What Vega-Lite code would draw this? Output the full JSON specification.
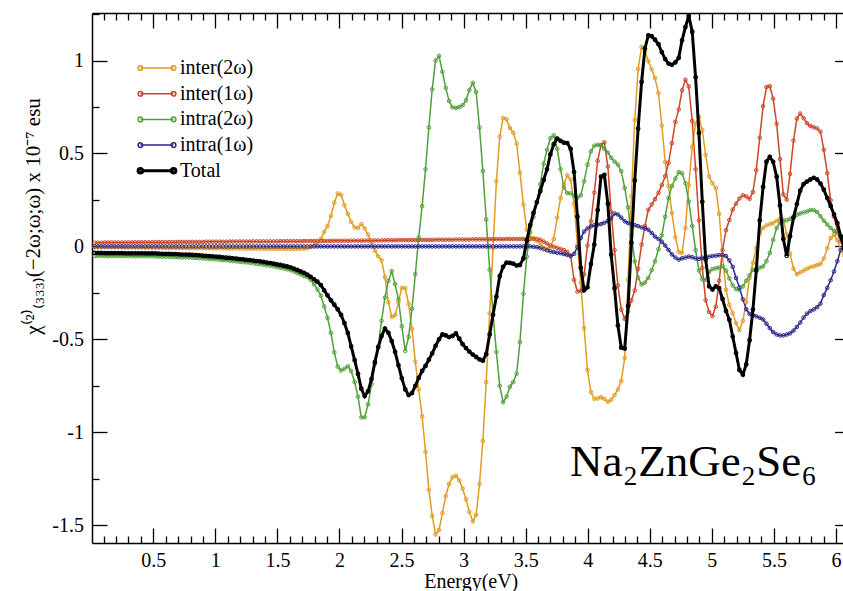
{
"$schema":"https://vega.github.io/schema/vega-lite/v6.json",
"width":757.5,"height":530,
"autosize":{"type":"none"},
"padding":{"left":92,"top":13,"right":-6.5,"bottom":48},
"background":"white",
"config":{"view":{"stroke":null},"axis":{"grid":false,"domainColor":"#000","domainWidth":1.5,"tickColor":"#000","tickWidth":1.3,"labelFont":"Liberation Serif","labelFontSize":20,"labelColor":"#000","titleFont":"Liberation Serif","titleFontSize":20,"titleFontWeight":"normal","titleColor":"#000"},"legend":{"labelFont":"Liberation Serif","labelFontSize":20,"labelColor":"#000"}},
"data":{"values":[
{"E":0.027,"o":-0.004,"r":0.020,"g":-0.051,"b":0,"t":-0.035},
{"E":0.054,"o":-0.004,"r":0.020,"g":-0.051,"b":0,"t":-0.035},
{"E":0.082,"o":-0.005,"r":0.020,"g":-0.050,"b":0,"t":-0.035},
{"E":0.109,"o":-0.005,"r":0.021,"g":-0.052,"b":0,"t":-0.036},
{"E":0.136,"o":-0.005,"r":0.021,"g":-0.052,"b":0,"t":-0.036},
{"E":0.163,"o":-0.005,"r":0.021,"g":-0.052,"b":0,"t":-0.036},
{"E":0.190,"o":-0.005,"r":0.021,"g":-0.052,"b":0,"t":-0.036},
{"E":0.218,"o":-0.005,"r":0.021,"g":-0.052,"b":0,"t":-0.036},
{"E":0.245,"o":-0.005,"r":0.021,"g":-0.052,"b":0,"t":-0.036},
{"E":0.272,"o":-0.006,"r":0.021,"g":-0.052,"b":0,"t":-0.037},
{"E":0.299,"o":-0.006,"r":0.021,"g":-0.052,"b":0,"t":-0.037},
{"E":0.326,"o":-0.006,"r":0.022,"g":-0.053,"b":0,"t":-0.037},
{"E":0.354,"o":-0.006,"r":0.022,"g":-0.053,"b":0,"t":-0.037},
{"E":0.381,"o":-0.006,"r":0.022,"g":-0.053,"b":0,"t":-0.037},
{"E":0.408,"o":-0.006,"r":0.022,"g":-0.053,"b":0,"t":-0.037},
{"E":0.435,"o":-0.007,"r":0.022,"g":-0.053,"b":0,"t":-0.038},
{"E":0.462,"o":-0.007,"r":0.022,"g":-0.053,"b":0,"t":-0.038},
{"E":0.490,"o":-0.007,"r":0.022,"g":-0.053,"b":0,"t":-0.038},
{"E":0.517,"o":-0.007,"r":0.023,"g":-0.054,"b":0,"t":-0.038},
{"E":0.544,"o":-0.007,"r":0.023,"g":-0.055,"b":0,"t":-0.039},
{"E":0.571,"o":-0.007,"r":0.023,"g":-0.056,"b":0,"t":-0.040},
{"E":0.598,"o":-0.008,"r":0.023,"g":-0.055,"b":0,"t":-0.040},
{"E":0.626,"o":-0.008,"r":0.023,"g":-0.056,"b":0,"t":-0.041},
{"E":0.653,"o":-0.008,"r":0.023,"g":-0.057,"b":0,"t":-0.042},
{"E":0.680,"o":-0.008,"r":0.023,"g":-0.057,"b":0,"t":-0.042},
{"E":0.707,"o":-0.008,"r":0.024,"g":-0.059,"b":0,"t":-0.043},
{"E":0.734,"o":-0.008,"r":0.024,"g":-0.060,"b":0,"t":-0.044},
{"E":0.762,"o":-0.009,"r":0.024,"g":-0.059,"b":0,"t":-0.044},
{"E":0.789,"o":-0.009,"r":0.024,"g":-0.060,"b":0,"t":-0.045},
{"E":0.816,"o":-0.009,"r":0.024,"g":-0.061,"b":0,"t":-0.046},
{"E":0.843,"o":-0.009,"r":0.024,"g":-0.062,"b":0,"t":-0.047},
{"E":0.870,"o":-0.009,"r":0.024,"g":-0.063,"b":0,"t":-0.048},
{"E":0.898,"o":-0.009,"r":0.024,"g":-0.065,"b":0,"t":-0.050},
{"E":0.925,"o":-0.010,"r":0.025,"g":-0.066,"b":0,"t":-0.051},
{"E":0.952,"o":-0.010,"r":0.025,"g":-0.068,"b":0,"t":-0.053},
{"E":0.979,"o":-0.010,"r":0.025,"g":-0.069,"b":0,"t":-0.054},
{"E":1.006,"o":-0.010,"r":0.025,"g":-0.070,"b":0,"t":-0.055},
{"E":1.034,"o":-0.010,"r":0.025,"g":-0.072,"b":0,"t":-0.057},
{"E":1.061,"o":-0.010,"r":0.025,"g":-0.074,"b":0,"t":-0.059},
{"E":1.088,"o":-0.011,"r":0.025,"g":-0.075,"b":0,"t":-0.061},
{"E":1.115,"o":-0.011,"r":0.026,"g":-0.077,"b":0,"t":-0.062},
{"E":1.142,"o":-0.011,"r":0.026,"g":-0.079,"b":0,"t":-0.064},
{"E":1.170,"o":-0.011,"r":0.026,"g":-0.081,"b":0,"t":-0.066},
{"E":1.197,"o":-0.011,"r":0.026,"g":-0.083,"b":0,"t":-0.068},
{"E":1.224,"o":-0.011,"r":0.026,"g":-0.085,"b":0,"t":-0.070},
{"E":1.251,"o":-0.012,"r":0.026,"g":-0.086,"b":0,"t":-0.072},
{"E":1.278,"o":-0.012,"r":0.026,"g":-0.088,"b":0,"t":-0.074},
{"E":1.306,"o":-0.012,"r":0.027,"g":-0.091,"b":0,"t":-0.076},
{"E":1.333,"o":-0.012,"r":0.027,"g":-0.094,"b":0,"t":-0.079},
{"E":1.360,"o":-0.012,"r":0.027,"g":-0.096,"b":0,"t":-0.081},
{"E":1.387,"o":-0.012,"r":0.027,"g":-0.099,"b":0,"t":-0.084},
{"E":1.414,"o":-0.012,"r":0.027,"g":-0.102,"b":0,"t":-0.087},
{"E":1.442,"o":-0.013,"r":0.027,"g":-0.104,"b":0,"t":-0.090},
{"E":1.469,"o":-0.013,"r":0.027,"g":-0.107,"b":0,"t":-0.093},
{"E":1.496,"o":-0.013,"r":0.027,"g":-0.111,"b":0,"t":-0.097},
{"E":1.523,"o":-0.013,"r":0.028,"g":-0.115,"b":0,"t":-0.100},
{"E":1.550,"o":-0.013,"r":0.028,"g":-0.119,"b":0,"t":-0.104},
{"E":1.578,"o":-0.013,"r":0.028,"g":-0.123,"b":0,"t":-0.108},
{"E":1.605,"o":-0.013,"r":0.028,"g":-0.128,"b":0,"t":-0.113},
{"E":1.632,"o":-0.013,"r":0.028,"g":-0.135,"b":0,"t":-0.120},
{"E":1.659,"o":-0.013,"r":0.028,"g":-0.142,"b":0,"t":-0.127},
{"E":1.686,"o":-0.012,"r":0.028,"g":-0.151,"b":0,"t":-0.135},
{"E":1.714,"o":-0.012,"r":0.029,"g":-0.160,"b":0,"t":-0.143},
{"E":1.741,"o":-0.010,"r":0.029,"g":-0.165,"b":0,"t":-0.152},
{"E":1.768,"o":-0.004,"r":0.029,"g":-0.180,"b":0,"t":-0.164},
{"E":1.795,"o":0.005,"r":0.029,"g":-0.203,"b":0,"t":-0.177},
{"E":1.822,"o":0.020,"r":0.029,"g":-0.232,"b":0,"t":-0.190},
{"E":1.850,"o":0.040,"r":0.029,"g":-0.265,"b":0,"t":-0.208},
{"E":1.877,"o":0.078,"r":0.029,"g":-0.323,"b":0,"t":-0.237},
{"E":1.904,"o":0.110,"r":0.029,"g":-0.385,"b":0,"t":-0.264},
{"E":1.931,"o":0.165,"r":0.030,"g":-0.465,"b":0,"t":-0.290},
{"E":1.958,"o":0.235,"r":0.030,"g":-0.570,"b":0,"t":-0.314},
{"E":1.986,"o":0.285,"r":0.030,"g":-0.647,"b":0,"t":-0.339},
{"E":2.013,"o":0.278,"r":0.030,"g":-0.668,"b":0,"t":-0.369},
{"E":2.040,"o":0.222,"r":0.030,"g":-0.658,"b":0,"t":-0.413},
{"E":2.067,"o":0.175,"r":0.030,"g":-0.645,"b":0,"t":-0.466},
{"E":2.094,"o":0.132,"r":0.031,"g":-0.670,"b":0,"t":-0.538},
{"E":2.122,"o":0.102,"r":0.031,"g":-0.730,"b":0,"t":-0.612},
{"E":2.149,"o":0.099,"r":0.031,"g":-0.808,"b":0,"t":-0.686},
{"E":2.176,"o":0.120,"r":0.031,"g":-0.920,"b":0,"t":-0.766},
{"E":2.203,"o":0.097,"r":0.031,"g":-0.920,"b":0,"t":-0.805},
{"E":2.230,"o":0.064,"r":0.032,"g":-0.850,"b":0,"t":-0.780},
{"E":2.258,"o":0.020,"r":0.032,"g":-0.742,"b":0,"t":-0.714},
{"E":2.285,"o":-0.023,"r":0.032,"g":-0.632,"b":0,"t":-0.623},
{"E":2.312,"o":-0.053,"r":0.032,"g":-0.537,"b":0,"t":-0.543},
{"E":2.339,"o":-0.075,"r":0.032,"g":-0.400,"b":0,"t":-0.482},
{"E":2.366,"o":-0.165,"r":0.033,"g":-0.275,"b":0,"t":-0.442},
{"E":2.394,"o":-0.300,"r":0.033,"g":-0.185,"b":0,"t":-0.465},
{"E":2.421,"o":-0.380,"r":0.033,"g":-0.134,"b":0,"t":-0.510},
{"E":2.448,"o":-0.370,"r":0.033,"g":-0.203,"b":0,"t":-0.568},
{"E":2.475,"o":-0.300,"r":0.034,"g":-0.285,"b":0,"t":-0.640},
{"E":2.502,"o":-0.222,"r":0.034,"g":-0.430,"b":0,"t":-0.710},
{"E":2.530,"o":-0.225,"r":0.034,"g":-0.563,"b":0,"t":-0.770},
{"E":2.557,"o":-0.310,"r":0.034,"g":-0.487,"b":0,"t":-0.800},
{"E":2.584,"o":-0.445,"r":0.034,"g":-0.335,"b":0,"t":-0.790},
{"E":2.611,"o":-0.620,"r":0.034,"g":-0.150,"b":0,"t":-0.750},
{"E":2.638,"o":-0.770,"r":0.035,"g":0.048,"b":0,"t":-0.708},
{"E":2.666,"o":-0.915,"r":0.035,"g":0.217,"b":0,"t":-0.670},
{"E":2.693,"o":-1.105,"r":0.035,"g":0.415,"b":0,"t":-0.643},
{"E":2.720,"o":-1.309,"r":0.035,"g":0.640,"b":0,"t":-0.610},
{"E":2.747,"o":-1.450,"r":0.035,"g":0.845,"b":0,"t":-0.576},
{"E":2.774,"o":-1.550,"r":0.036,"g":1.000,"b":0,"t":-0.535},
{"E":2.802,"o":-1.527,"r":0.036,"g":1.025,"b":0,"t":-0.500},
{"E":2.829,"o":-1.435,"r":0.036,"g":0.940,"b":0,"t":-0.474},
{"E":2.856,"o":-1.343,"r":0.036,"g":0.853,"b":0,"t":-0.479},
{"E":2.883,"o":-1.279,"r":0.036,"g":0.782,"b":0,"t":-0.488},
{"E":2.910,"o":-1.242,"r":0.036,"g":0.749,"b":0,"t":-0.482},
{"E":2.938,"o":-1.234,"r":0.037,"g":0.745,"b":0,"t":-0.468},
{"E":2.965,"o":-1.259,"r":0.037,"g":0.750,"b":0,"t":-0.497},
{"E":2.992,"o":-1.303,"r":0.037,"g":0.760,"b":0,"t":-0.526},
{"E":3.019,"o":-1.361,"r":0.037,"g":0.786,"b":0,"t":-0.547},
{"E":3.046,"o":-1.428,"r":0.037,"g":0.842,"b":0,"t":-0.566},
{"E":3.074,"o":-1.480,"r":0.038,"g":0.880,"b":0,"t":-0.582},
{"E":3.101,"o":-1.445,"r":0.038,"g":0.830,"b":0,"t":-0.595},
{"E":3.128,"o":-1.280,"r":0.038,"g":0.640,"b":0,"t":-0.608},
{"E":3.155,"o":-1.046,"r":0.038,"g":0.406,"b":0,"t":-0.615},
{"E":3.182,"o":-0.730,"r":0.038,"g":0.145,"b":0,"t":-0.580},
{"E":3.210,"o":-0.360,"r":0.039,"g":-0.125,"b":0,"t":-0.474},
{"E":3.237,"o":-0.010,"r":0.039,"g":-0.365,"b":0,"t":-0.368},
{"E":3.264,"o":0.350,"r":0.039,"g":-0.568,"b":0,"t":-0.270},
{"E":3.291,"o":0.590,"r":0.039,"g":-0.750,"b":0,"t":-0.160},
{"E":3.318,"o":0.690,"r":0.039,"g":-0.838,"b":0,"t":-0.110},
{"E":3.346,"o":0.685,"r":0.040,"g":-0.808,"b":0,"t":-0.087},
{"E":3.373,"o":0.637,"r":0.040,"g":-0.755,"b":0,"t":-0.089},
{"E":3.400,"o":0.612,"r":0.040,"g":-0.730,"b":0,"t":-0.093},
{"E":3.427,"o":0.553,"r":0.040,"g":-0.685,"b":0,"t":-0.103},
{"E":3.454,"o":0.396,"r":0.040,"g":-0.515,"b":0,"t":-0.100},
{"E":3.482,"o":0.225,"r":0.040,"g":-0.255,"b":0,"t":-0.065},
{"E":3.509,"o":0.090,"r":0.040,"g":-0.055,"b":0,"t":0.032},
{"E":3.536,"o":0.050,"r":0.040,"g":0.075,"b":0,"t":0.115},
{"E":3.563,"o":0.045,"r":0.040,"g":0.158,"b":-0.002,"t":0.180},
{"E":3.590,"o":0.030,"r":0.040,"g":0.240,"b":-0.004,"t":0.237},
{"E":3.618,"o":0.016,"r":0.036,"g":0.335,"b":-0.009,"t":0.298},
{"E":3.645,"o":-0.008,"r":0.026,"g":0.445,"b":-0.015,"t":0.358},
{"E":3.672,"o":-0.015,"r":0.015,"g":0.520,"b":-0.021,"t":0.415},
{"E":3.699,"o":-0.005,"r":0.005,"g":0.582,"b":-0.027,"t":0.495},
{"E":3.726,"o":0.040,"r":-0.001,"g":0.598,"b":-0.030,"t":0.550},
{"E":3.754,"o":0.155,"r":-0.008,"g":0.525,"b":-0.034,"t":0.580},
{"E":3.781,"o":0.260,"r":-0.014,"g":0.415,"b":-0.037,"t":0.568},
{"E":3.808,"o":0.335,"r":-0.020,"g":0.318,"b":-0.041,"t":0.558},
{"E":3.835,"o":0.383,"r":-0.030,"g":0.287,"b":-0.046,"t":0.556},
{"E":3.862,"o":0.360,"r":-0.050,"g":0.285,"b":-0.052,"t":0.525},
{"E":3.890,"o":0.230,"r":-0.180,"g":0.273,"b":-0.040,"t":0.400},
{"E":3.917,"o":0.010,"r":-0.243,"g":0.262,"b":-0.004,"t":0.160},
{"E":3.944,"o":-0.195,"r":-0.240,"g":0.275,"b":0.045,"t":-0.115},
{"E":3.971,"o":-0.440,"r":-0.150,"g":0.350,"b":0.080,"t":-0.236},
{"E":3.998,"o":-0.665,"r":0.005,"g":0.440,"b":0.097,"t":-0.220},
{"E":4.026,"o":-0.785,"r":0.135,"g":0.512,"b":0.108,"t":-0.095},
{"E":4.053,"o":-0.820,"r":0.290,"g":0.542,"b":0.114,"t":0.010},
{"E":4.080,"o":-0.818,"r":0.460,"g":0.547,"b":0.117,"t":0.195},
{"E":4.107,"o":-0.812,"r":0.545,"g":0.545,"b":0.120,"t":0.375},
{"E":4.134,"o":-0.820,"r":0.560,"g":0.525,"b":0.127,"t":0.385},
{"E":4.162,"o":-0.836,"r":0.430,"g":0.505,"b":0.137,"t":0.230},
{"E":4.189,"o":-0.825,"r":0.185,"g":0.477,"b":0.150,"t":-0.045},
{"E":4.216,"o":-0.800,"r":-0.020,"g":0.456,"b":0.177,"t":-0.225},
{"E":4.243,"o":-0.770,"r":-0.210,"g":0.440,"b":0.172,"t":-0.425},
{"E":4.270,"o":-0.724,"r":-0.340,"g":0.405,"b":0.155,"t":-0.545},
{"E":4.298,"o":-0.600,"r":-0.390,"g":0.315,"b":0.135,"t":-0.550},
{"E":4.325,"o":-0.180,"r":-0.350,"g":0.210,"b":0.126,"t":-0.320},
{"E":4.352,"o":0.270,"r":-0.290,"g":0.060,"b":0.120,"t":0.020},
{"E":4.379,"o":0.680,"r":-0.237,"g":-0.080,"b":0.114,"t":0.355},
{"E":4.406,"o":0.955,"r":-0.120,"g":-0.168,"b":0.109,"t":0.634},
{"E":4.434,"o":1.073,"r":0.010,"g":-0.205,"b":0.102,"t":0.885},
{"E":4.461,"o":1.050,"r":0.110,"g":-0.195,"b":0.097,"t":1.065},
{"E":4.488,"o":0.998,"r":0.197,"g":-0.170,"b":0.090,"t":1.136},
{"E":4.515,"o":0.953,"r":0.226,"g":-0.128,"b":0.072,"t":1.131},
{"E":4.542,"o":0.905,"r":0.254,"g":-0.080,"b":0.053,"t":1.112},
{"E":4.570,"o":0.825,"r":0.288,"g":-0.015,"b":0.040,"t":1.088},
{"E":4.597,"o":0.650,"r":0.330,"g":0.060,"b":0.025,"t":1.045},
{"E":4.624,"o":0.455,"r":0.378,"g":0.160,"b":0.005,"t":1.008},
{"E":4.651,"o":0.325,"r":0.450,"g":0.260,"b":-0.019,"t":0.984},
{"E":4.678,"o":0.180,"r":0.555,"g":0.325,"b":-0.043,"t":0.977},
{"E":4.706,"o":0.050,"r":0.670,"g":0.365,"b":-0.060,"t":0.990},
{"E":4.733,"o":-0.030,"r":0.737,"g":0.400,"b":-0.071,"t":1.015},
{"E":4.760,"o":-0.035,"r":0.840,"g":0.393,"b":-0.064,"t":1.109},
{"E":4.787,"o":0.100,"r":0.897,"g":0.340,"b":-0.060,"t":1.180},
{"E":4.814,"o":0.330,"r":0.860,"g":0.242,"b":-0.055,"t":1.240},
{"E":4.842,"o":0.536,"r":0.675,"g":0.110,"b":-0.058,"t":1.155},
{"E":4.869,"o":0.660,"r":0.415,"g":-0.020,"b":-0.065,"t":0.910},
{"E":4.896,"o":0.697,"r":0.140,"g":-0.130,"b":-0.067,"t":0.610},
{"E":4.923,"o":0.626,"r":-0.115,"g":-0.178,"b":-0.061,"t":0.240},
{"E":4.950,"o":0.492,"r":-0.290,"g":-0.180,"b":-0.058,"t":-0.070},
{"E":4.978,"o":0.376,"r":-0.353,"g":-0.137,"b":-0.055,"t":-0.215},
{"E":5.005,"o":0.340,"r":-0.375,"g":-0.122,"b":-0.052,"t":-0.232},
{"E":5.032,"o":0.314,"r":-0.324,"g":-0.118,"b":-0.050,"t":-0.215},
{"E":5.059,"o":0.175,"r":-0.185,"g":-0.114,"b":-0.047,"t":-0.225},
{"E":5.086,"o":-0.050,"r":-0.020,"g":-0.107,"b":-0.046,"t":-0.283},
{"E":5.114,"o":-0.233,"r":0.087,"g":-0.130,"b":-0.052,"t":-0.347},
{"E":5.141,"o":-0.315,"r":0.142,"g":-0.172,"b":-0.075,"t":-0.395},
{"E":5.168,"o":-0.360,"r":0.198,"g":-0.210,"b":-0.110,"t":-0.485},
{"E":5.195,"o":-0.413,"r":0.230,"g":-0.230,"b":-0.170,"t":-0.574},
{"E":5.222,"o":-0.450,"r":0.258,"g":-0.235,"b":-0.220,"t":-0.665},
{"E":5.250,"o":-0.400,"r":0.275,"g":-0.215,"b":-0.285,"t":-0.690},
{"E":5.277,"o":-0.300,"r":0.269,"g":-0.185,"b":-0.338,"t":-0.635},
{"E":5.304,"o":-0.170,"r":0.256,"g":-0.155,"b":-0.364,"t":-0.505},
{"E":5.331,"o":-0.088,"r":0.292,"g":-0.126,"b":-0.370,"t":-0.340},
{"E":5.358,"o":-0.010,"r":0.410,"g":-0.119,"b":-0.376,"t":-0.130},
{"E":5.386,"o":0.070,"r":0.585,"g":-0.114,"b":-0.384,"t":0.140},
{"E":5.413,"o":0.100,"r":0.755,"g":-0.108,"b":-0.393,"t":0.320},
{"E":5.440,"o":0.113,"r":0.858,"g":-0.080,"b":-0.416,"t":0.456},
{"E":5.467,"o":0.120,"r":0.862,"g":-0.035,"b":-0.440,"t":0.482},
{"E":5.494,"o":0.126,"r":0.795,"g":0.035,"b":-0.461,"t":0.455},
{"E":5.522,"o":0.138,"r":0.660,"g":0.100,"b":-0.474,"t":0.375},
{"E":5.549,"o":0.147,"r":0.470,"g":0.128,"b":-0.479,"t":0.220},
{"E":5.576,"o":0.145,"r":0.280,"g":0.136,"b":-0.479,"t":0.040},
{"E":5.603,"o":0.065,"r":0.252,"g":0.140,"b":-0.474,"t":-0.050},
{"E":5.630,"o":-0.040,"r":0.390,"g":0.148,"b":-0.468,"t":0.055},
{"E":5.658,"o":-0.120,"r":0.570,"g":0.160,"b":-0.453,"t":0.155},
{"E":5.685,"o":-0.150,"r":0.688,"g":0.170,"b":-0.433,"t":0.228},
{"E":5.712,"o":-0.140,"r":0.715,"g":0.177,"b":-0.410,"t":0.300},
{"E":5.739,"o":-0.130,"r":0.690,"g":0.183,"b":-0.383,"t":0.335},
{"E":5.766,"o":-0.120,"r":0.663,"g":0.188,"b":-0.362,"t":0.349},
{"E":5.794,"o":-0.112,"r":0.648,"g":0.196,"b":-0.348,"t":0.360},
{"E":5.821,"o":-0.107,"r":0.641,"g":0.195,"b":-0.339,"t":0.369},
{"E":5.848,"o":-0.100,"r":0.635,"g":0.185,"b":-0.327,"t":0.360},
{"E":5.875,"o":-0.095,"r":0.618,"g":0.162,"b":-0.308,"t":0.338},
{"E":5.902,"o":-0.065,"r":0.520,"g":0.138,"b":-0.262,"t":0.305},
{"E":5.930,"o":-0.010,"r":0.394,"g":0.118,"b":-0.223,"t":0.260},
{"E":5.957,"o":0.045,"r":0.248,"g":0.099,"b":-0.182,"t":0.218},
{"E":5.984,"o":0.063,"r":0.160,"g":0.083,"b":-0.135,"t":0.172},
{"E":6.011,"o":0.035,"r":0.085,"g":0.070,"b":-0.080,"t":0.125},
{"E":6.038,"o":-0.015,"r":0.028,"g":0.056,"b":-0.020,"t":0.055},
{"E":6.066,"o":-0.050,"r":-0.005,"g":0.045,"b":0.010,"t":-0.010}
]},
"layer":[
{
"transform":[{"fold":["o","r","g","b","t"],"as":["series","chi"]},{"filter":"datum.series !== 't'"}],
"mark":{"type":"line","strokeWidth":1.5,"clip":true},
"encoding":{
"x":{"field":"E","type":"quantitative","scale":{"domain":[0.006,6.109],"nice":false,"zero":false},
"axis":{"orient":"bottom","title":"Energy(eV)","values":[0.5,1,1.5,2,2.5,3,3.5,4,4.5,5,5.5,6],"format":"~g","labelOverlap":false,"labelFlush":false,"tickSize":-15,"labelPadding":22.5,"titlePadding":1}},
"y":{"field":"chi","type":"quantitative","scale":{"domain":[-1.596,1.256],"nice":false,"zero":false},
"axis":{"orient":"left","title":"χ⁽²⁾₍₃₃₃₎(−2ω;ω;ω) x 10⁻⁷ esu","titleFontSize":21,"values":[-1.5,-1,-0.5,0,0.5,1],"format":"~g","labelExpr":"replace(datum.label,'−','-')","labelOverlap":false,"labelFlush":false,"tickSize":-15,"labelPadding":23.5,"titlePadding":8,"titleY":203}},
"color":{"field":"series","type":"nominal","scale":{"domain":["o","r","g","b","t"],"range":["#e39b22","#cc4526","#50a03a","#2c2a8c","#000000"]},
"legend":{"orient":"none","legendX":55,"legendY":45,"title":null,"padding":0,"symbolType":"M-2,0L2,0M-1.72,0A0.28,0.28,0,1,1,-2.28,0A0.28,0.28,0,1,1,-1.72,0M2.28,0A0.28,0.28,0,1,1,1.72,0A0.28,0.28,0,1,1,2.28,0","symbolSize":275,"symbolStrokeWidth":1.5,"labelFont":"Liberation Serif","labelFontSize":20,"labelColor":"#000","labelOffset":13,"rowPadding":5.7,"labelLimit":300,
"labelExpr":"datum.label == 'o' ? 'inter(2ω)' : datum.label == 'r' ? 'inter(1ω)' : datum.label == 'g' ? 'intra(2ω)' : datum.label == 'b' ? 'intra(1ω)' : 'Total'",
"encode":{"symbols":{"update":{"fill":{"value":"transparent"},"strokeWidth":{"signal":"datum.value == 't' ? 3 : 1.5"}}},"labels":{"update":{"fontSize":{"value":20},"font":{"value":"Liberation Serif"}}}}}}
}
},
{
"transform":[{"fold":["o","r","g","b","t"],"as":["series","chi"]},{"filter":"datum.series !== 't'"}],
"mark":{"type":"point","filled":false,"size":13,"strokeWidth":1,"opacity":1,"clip":true},
"encoding":{
"x":{"field":"E","type":"quantitative","axis":{"orient":"top","title":null,"labels":false,"values":[0.5,1,1.5,2,2.5,3,3.5,4,4.5,5,5.5,6],"tickSize":-15}},
"y":{"field":"chi","type":"quantitative","axis":{"orient":"right","title":null,"labels":false,"values":[-1.5,-1,-0.5,0,0.5,1],"tickSize":-15}},
"color":{"field":"series","type":"nominal","legend":null}
}
},
{
"transform":[{"fold":["o","r","g","b","t"],"as":["series","chi"]},{"filter":"datum.series === 't'"}],
"mark":{"type":"line","strokeWidth":3,"clip":true},
"encoding":{
"x":{"field":"E","type":"quantitative","axis":{"orient":"bottom","title":null,"labels":false,"domain":false,"values":[0.1,0.2,0.3,0.4,0.6,0.7,0.8,0.9,1.1,1.2,1.3,1.4,1.6,1.7,1.8,1.9,2.1,2.2,2.3,2.4,2.6,2.7,2.8,2.9,3.1,3.2,3.3,3.4,3.6,3.7,3.8,3.9,4.1,4.2,4.3,4.4,4.6,4.7,4.8,4.9,5.1,5.2,5.3,5.4,5.6,5.7,5.8,5.9,6.1],"tickSize":-7}},
"y":{"field":"chi","type":"quantitative","axis":{"orient":"left","title":null,"labels":false,"domain":false,"values":[-1.25,-0.75,-0.25,0.25,0.75,1.25],"tickSize":-7}},
"color":{"field":"series","type":"nominal","legend":null}
}
},
{
"transform":[{"fold":["o","r","g","b","t"],"as":["series","chi"]},{"filter":"datum.series === 't'"}],
"mark":{"type":"point","filled":false,"size":13,"strokeWidth":1.2,"opacity":1,"clip":true},
"encoding":{
"x":{"field":"E","type":"quantitative","axis":{"orient":"top","title":null,"labels":false,"domain":false,"values":[0.1,0.2,0.3,0.4,0.6,0.7,0.8,0.9,1.1,1.2,1.3,1.4,1.6,1.7,1.8,1.9,2.1,2.2,2.3,2.4,2.6,2.7,2.8,2.9,3.1,3.2,3.3,3.4,3.6,3.7,3.8,3.9,4.1,4.2,4.3,4.4,4.6,4.7,4.8,4.9,5.1,5.2,5.3,5.4,5.6,5.7,5.8,5.9,6.1],"tickSize":-7}},
"y":{"field":"chi","type":"quantitative","axis":{"orient":"right","title":null,"labels":false,"domain":false,"values":[-1.25,-0.75,-0.25,0.25,0.75,1.25],"tickSize":-7}},
"color":{"field":"series","type":"nominal","legend":null}
}
},
{
"data":{"values":[{}]},
"mark":{"type":"text","text":"Na₂ZnGe₂Se₆","font":"Liberation Serif","fontSize":45,"align":"left","baseline":"alphabetic","color":"#000"},
"encoding":{
"x":{"datum":3.857,"type":"quantitative","axis":null},
"y":{"datum":-1.238,"type":"quantitative","axis":null}
}
}
]
}
